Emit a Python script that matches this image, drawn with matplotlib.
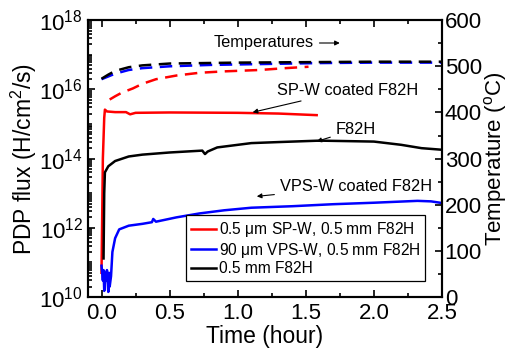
import matplotlib
matplotlib.use('Agg')
import matplotlib.pyplot as plt
from matplotlib.ticker import LogLocator, MultipleLocator, NullFormatter, FormatStrFormatter

plt.rcParams['font.family'] = ['Liberation Sans', 'DejaVu Sans']
plt.rcParams['mathtext.fontset'] = 'custom'
plt.rcParams['mathtext.rm'] = 'Liberation Sans'
plt.rcParams['mathtext.it'] = 'Liberation Sans:italic'
plt.rcParams['mathtext.default'] = 'regular'

# flux data (H/cm^2/s) vs time (hour)
red_t = [0.0, 0.005, 0.01, 0.02, 0.025, 0.04, 0.1, 0.18, 0.21, 0.25, 0.5, 1.0, 1.3, 1.58]
red_flux = [5e10, 2e12, 1e14, 1.5e15, 2.6e15, 2.3e15, 2.2e15, 2.2e15, 1.9e15, 2.1e15,
            2.15e15, 2.1e15, 2.0e15, 1.8e15]

blue_t = [0.0, 0.01, 0.015, 0.02, 0.03, 0.035, 0.04, 0.05, 0.055, 0.06, 0.07, 0.08, 0.1,
          0.13, 0.2, 0.3, 0.37, 0.38, 0.4, 0.55, 0.72, 0.9, 1.1, 1.4, 1.7, 2.0, 2.32, 2.42, 2.5]
blue_flux = [8e10, 3e10, 6e10, 1.5e10, 5e10, 3e10, 6e10, 1.4e10, 5e10, 2e10, 4e10, 2e11, 5e11,
             9e11, 1.15e12, 1.3e12, 1.45e12, 1.8e12, 1.5e12, 2e12, 2.6e12, 3.2e12, 3.8e12,
             4.2e12, 4.8e12, 5.3e12, 6e12, 5.8e12, 5.2e12]

black_t = [0.015, 0.02, 0.025, 0.05, 0.1, 0.2, 0.3, 0.5, 0.74, 0.76, 0.78, 0.85, 1.1, 1.3,
           1.6, 2.0, 2.2, 2.35, 2.5]
black_flux = [1.3e11, 1e13, 4e13, 6e13, 8.5e13, 1.15e14, 1.3e14, 1.5e14, 1.7e14, 1.35e14,
              1.6e14, 2.1e14, 2.8e14, 3.0e14, 3.3e14, 3.1e14, 2.5e14, 2.0e14, 1.8e14]

# temperatures (C)
red_temp_t = [0.06, 0.1, 0.15, 0.23, 0.3, 0.4, 0.55, 0.72, 0.9, 1.16, 1.35, 1.52]
red_temp = [428, 435, 443, 452, 462, 472, 480, 486, 489, 492, 496, 499]
blue_temp_t = [0, 0.05, 0.1, 0.2, 0.3, 0.5, 0.8, 1.2, 1.6, 2.0, 2.5]
blue_temp = [472, 478, 484, 492, 496, 500, 503, 505, 507, 508, 508]
black_temp_t = [0, 0.05, 0.1, 0.2, 0.3, 0.5, 1.0, 1.5, 2.0, 2.5]
black_temp = [473, 482, 490, 498, 502, 506, 508, 509, 510, 510]

labels = ['0.5 $\\mu$m SP-W, 0.5 mm F82H', '90 $\\mu$m VPS-W, 0.5 mm F82H', '0.5 mm F82H']

fig = plt.figure(figsize=(5.08, 3.6), dpi=100)
ax1 = fig.add_axes([0.173, 0.175, 0.697, 0.769])
ax2 = ax1.twinx()

l1, = ax1.plot(red_t, red_flux, color='#ff0000', lw=1.8)
l2, = ax1.plot(blue_t, blue_flux, color='#0000ff', lw=1.8)
l3, = ax1.plot(black_t, black_flux, color='black', lw=1.8)

ax2.plot(red_temp_t, red_temp, color='#ff0000', lw=1.8, dashes=(5, 3))
ax2.plot(blue_temp_t, blue_temp, color='#0000ff', lw=1.8, dashes=(5, 3))
ax2.plot(black_temp_t, black_temp, color='black', lw=1.8, dashes=(5, 3))

ax1.set_yscale('log')
ax1.set_ylim(1e10, 1e18)
ax1.set_xlim(-0.1, 2.5)
ax2.set_ylim(0, 600)

ax1.yaxis.set_major_locator(LogLocator(base=100, numticks=10))
ax1.yaxis.set_minor_locator(LogLocator(base=10, subs=[1, 2, 3, 4, 5, 6, 7, 8, 9], numticks=20))
ax1.yaxis.set_minor_formatter(NullFormatter())
ax1.xaxis.set_major_locator(MultipleLocator(0.5))
ax1.xaxis.set_minor_locator(MultipleLocator(0.25))
ax1.xaxis.set_major_formatter(FormatStrFormatter('%.1f'))
ax2.yaxis.set_major_locator(MultipleLocator(100))
ax2.yaxis.set_minor_locator(MultipleLocator(50))

ax1.tick_params(which='both', direction='in', top=True, right=False, labelsize=16, width=1.2)
ax1.tick_params(which='major', length=5)
ax1.tick_params(which='minor', length=3)
ax1.tick_params(axis='x', pad=4)
ax2.tick_params(which='both', direction='in', labelsize=16, width=1.2, pad=2)
ax2.tick_params(which='major', length=5)
ax2.tick_params(which='minor', length=3)

for ax in (ax1, ax2):
    for s in ax.spines.values():
        s.set_linewidth(1.5)

ax1.set_xlabel('Time (hour)', fontsize=16.5, labelpad=1)
ax1.set_ylabel('PDP flux (H/cm$^2$/s)', fontsize=16.5, labelpad=0)
ax2.set_ylabel('Temperature ($^o$C)', fontsize=16, labelpad=0)

arr = dict(arrowstyle='-|>', color='black', lw=0.8, mutation_scale=7)
ax1.annotate('', xy=(1.77, 10 ** 17.34), xytext=(1.58, 10 ** 17.34), arrowprops=arr)
ax1.text(0.82, 10 ** 17.34, 'Temperatures', fontsize=11.8, va='center')
ax1.annotate('SP-W coated F82H', xy=(1.09, 10 ** 15.32), xytext=(1.29, 10 ** 15.98),
             fontsize=11.8, va='center', ha='left', arrowprops=arr)
ax1.annotate('F82H', xy=(1.56, 10 ** 14.47), xytext=(1.72, 10 ** 14.85),
             fontsize=11.8, va='center', ha='left', arrowprops=arr)
ax1.annotate('VPS-W coated F82H', xy=(1.12, 10 ** 12.9), xytext=(1.31, 10 ** 13.2),
             fontsize=11.8, va='center', ha='left', arrowprops=arr)

leg = ax1.legend([l1, l2, l3], labels, loc='lower right', bbox_to_anchor=(0.975, 0.03),
                 fontsize=11.2, handlelength=1.6, handletextpad=0.2, labelspacing=0.1,
                 borderpad=0.3, fancybox=False, framealpha=1, edgecolor='black')
leg.get_frame().set_linewidth(0.9)

fig.savefig('out.png', dpi=100)
